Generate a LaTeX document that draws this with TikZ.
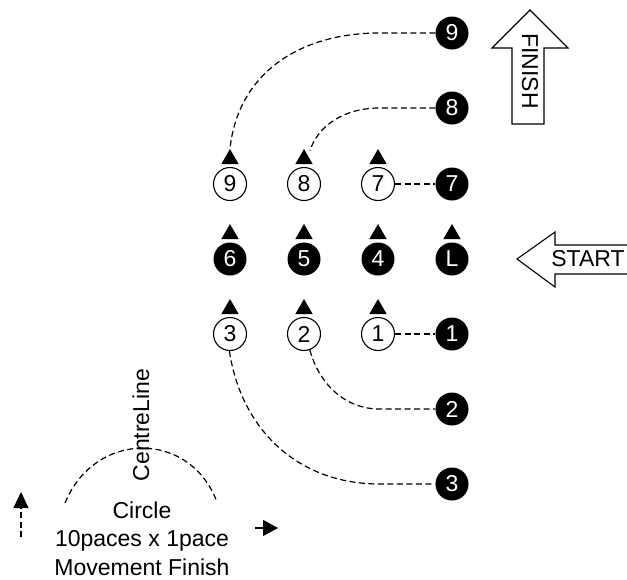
\documentclass[tikz,border=0pt]{standalone}
\usepackage{fontspec}
\setmainfont{Liberation Sans}
\usetikzlibrary{shapes.geometric,arrows.meta,calc}
\begin{document}
\begin{tikzpicture}[x=1pt,y=-1pt,
  wc/.style={circle,draw,line width=1.1pt,fill=white,minimum size=33pt,inner sep=0pt,font=\fontsize{23}{24}\selectfont},
  bc/.style={circle,fill=black,text=white,minimum size=33pt,inner sep=0pt,font=\fontsize{23}{24}\selectfont},
  tri/.style={regular polygon,regular polygon sides=3,fill=black,minimum size=20pt,inner sep=0pt},
  dline/.style={line width=1.2pt,dash pattern=on 6pt off 3.5pt},
  sline/.style={line width=1.1pt},
  lbl/.style={font=\fontsize{23}{28.5}\selectfont}]
\useasboundingbox (0,0) rectangle (627,579);

% circles
\node[bc] (b9) at (452,33) {9};
\node[bc] (b8) at (452,108) {8};
\node[wc] (w9) at (230,184) {9};
\node[wc] (w8) at (304,184) {8};
\node[wc] (w7) at (378,184) {7};
\node[bc] (b7) at (452,184) {7};
\node[bc] (b6) at (230,259) {6};
\node[bc] (b5) at (304,259) {5};
\node[bc] (b4) at (378,259) {4};
\node[bc] (bL) at (452,259) {L};
\node[wc] (w3) at (230,334) {3};
\node[wc] (w2) at (304,334) {2};
\node[wc] (w1) at (378,334) {1};
\node[bc] (b1) at (452,334) {1};
\node[bc] (b2) at (452,409) {2};
\node[bc] (b3) at (452,484) {3};

% facing markers
\node[tri] (t9) at (230,159) {};
\node[tri] (t8) at (304,159) {};
\node[tri] (t7) at (378,159) {};
\node[tri] (t6) at (230,234) {};
\node[tri] (t5) at (304,234) {};
\node[tri] (t4) at (378,234) {};
\node[tri] (tL) at (452,234) {};
\node[tri] (t3) at (230,309) {};
\node[tri] (t2) at (304,309) {};
\node[tri] (t1) at (378,309) {};

% connectors
\draw[dline] (b9.west) -- ++(-56,0) .. controls +(-80,0) and +(8,-75) .. (t9.north);
\draw[dline] (b8.west) -- ++(-56,0) .. controls +(-35,0) and +(8,-25) .. ($(t8.north)+(6,2)$);
\draw[dline] (w7) -- (b7);
\draw[dline] (w1) -- (b1);
\draw[dline] (w2.-70) .. controls +(9,33) and +(-35,0) .. ([xshift=-56pt]b2.west) -- (b2.west);
\draw[dline] (w3.-92) .. controls +(12,80) and +(-80,0) .. ([xshift=-56pt]b3.west) -- (b3.west);

% FINISH arrow
\draw[sline] (530,10) -- (568,48) -- (544,48) -- (544,124) -- (512,124) -- (512,48) -- (492,48) -- cycle;
\node[lbl,rotate=-90] (fin) at (530,71) {FINISH};

% START arrow
\draw[sline] (627,245) -- (555,245) -- (555,232) -- (517,259) -- (555,287) -- (555,274) -- (627,274);
\node[lbl] (st) at (588,259) {START};

% legend
\coordinate (arcL) at (65,503);
\coordinate (arcR) at (217,502);
\draw[dline] (arcL) .. controls (95,430) and (190,430) .. (arcR);
\node[lbl,rotate=90] (cl) at (141,425) {CentreLine};
\coordinate (upS) at (21,537);
\coordinate (upE) at (21,492);
\draw[dline,-{Triangle[width=15pt,length=16pt]}] (upS) -- (upE);
\coordinate (rtS) at (255,528);
\coordinate (rtE) at (278,528);
\draw[sline,-{Triangle[width=16pt,length=15pt]}] (rtS) -- (rtE);
\node[lbl,align=center,anchor=base,inner sep=0pt] (cap) at (142,575) {Circle\\10paces x 1pace\\Movement Finish};
\end{tikzpicture}
\end{document}
